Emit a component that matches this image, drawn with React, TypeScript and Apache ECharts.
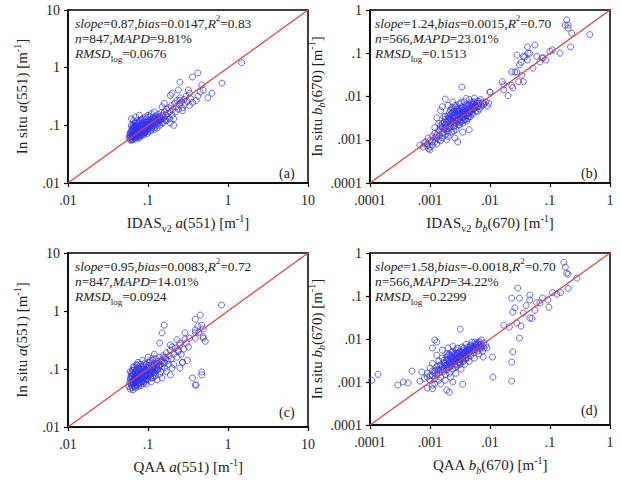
import React, { useEffect, useRef } from 'react';
import * as echarts from 'echarts';

const FONT = "'Liberation Serif', 'Times New Roman', serif";
const TXT = '#222';

// axis ranges (log10)
const rangeA = [0.01, 10];
const rangeB = [0.0001, 1];

// statistics: slope, bias, R2, n, MAPD, RMSDlog
const statsA = ['0.87', '0.0147', '0.83', '847', '9.81%', '0.0676'];
const statsB = ['1.24', '0.0015', '0.70', '566', '23.01%', '0.1513'];
const statsC = ['0.95', '0.0083', '0.72', '847', '14.01%', '0.0924'];
const statsD = ['1.58', '-0.0018', '0.70', '566', '34.22%', '0.2299'];

const panelLabels = ['(a)', '(b)', '(c)', '(d)'];

// axis names (rich text)
const xNames = [
  '{n|IDAS}{sub|v2}{n| }{i|a}{n|(551) [m}{sup|-1}{n|]}',
  '{n|IDAS}{sub|v2}{n| }{i|b}{isub|b}{n|(670) [m}{sup|-1}{n|]}',
  '{n|QAA }{i|a}{n|(551) [m}{sup|-1}{n|]}',
  '{n|QAA }{i|b}{isub|b}{n|(670) [m}{sup|-1}{n|]}',
];
const yNames = [
  '{n|In situ }{i|a}{n|(551) [m}{sup|-1}{n|]}',
  '{n|In situ }{i|b}{isub|b}{n|(670) [m}{sup|-1}{n|]}',
  '{n|In situ }{i|a}{n|(551) [m}{sup|-1}{n|]}',
  '{n|In situ }{i|b}{isub|b}{n|(670) [m}{sup|-1}{n|]}',
];

// panel (a): IDAS_v2 a(551) vs in situ a(551)
const pointsA = [
  [0.058,0.06],[0.06,0.057],[0.06,0.065],[0.061,0.072],[0.062,0.06],[0.062,0.08],[0.063,0.068],[0.063,0.09],[0.064,0.058],[0.064,0.075],
  [0.065,0.063],[0.065,0.1],[0.066,0.07],[0.066,0.085],[0.067,0.06],[0.067,0.078],[0.068,0.066],[0.068,0.11],[0.069,0.073],[0.069,0.092],
  [0.07,0.062],[0.07,0.082],[0.071,0.07],[0.071,0.1],[0.072,0.065],[0.072,0.088],[0.073,0.076],[0.073,0.12],[0.074,0.068],[0.074,0.095],
  [0.075,0.08],[0.075,0.062],[0.076,0.072],[0.076,0.105],[0.077,0.086],[0.078,0.068],[0.078,0.078],[0.079,0.115],[0.08,0.09],[0.08,0.072],
  [0.081,0.1],[0.082,0.082],[0.082,0.066],[0.083,0.125],[0.084,0.094],[0.085,0.076],[0.085,0.086],[0.086,0.108],[0.087,0.07],[0.088,0.098],
  [0.089,0.08],[0.09,0.118],[0.09,0.088],[0.091,0.074],[0.092,0.105],[0.093,0.094],[0.094,0.082],[0.095,0.13],[0.096,0.1],[0.097,0.086],
  [0.098,0.112],[0.1,0.095],[0.1,0.078],[0.102,0.12],[0.103,0.104],[0.104,0.09],[0.105,0.14],[0.107,0.11],[0.108,0.096],[0.11,0.125],
  [0.111,0.085],[0.112,0.106],[0.114,0.135],[0.115,0.098],[0.117,0.115],[0.118,0.09],[0.12,0.128],[0.122,0.105],[0.124,0.145],[0.125,0.115],
  [0.127,0.1],[0.13,0.135],[0.132,0.118],[0.134,0.155],[0.136,0.108],[0.138,0.125],[0.14,0.142],[0.143,0.12],[0.145,0.165],[0.147,0.13],
  [0.15,0.112],[0.153,0.148],[0.156,0.135],[0.16,0.17],[0.163,0.125],[0.166,0.15],[0.17,0.19],[0.174,0.14],[0.178,0.16],[0.182,0.2],
  [0.186,0.13],[0.19,0.175],[0.195,0.22],[0.2,0.15],[0.205,0.19],[0.21,0.13],[0.215,0.24],[0.22,0.17],[0.225,0.21],[0.23,0.27],
  [0.24,0.19],[0.245,0.23],[0.25,0.3],[0.26,0.25],[0.27,0.2],[0.28,0.28],[0.29,0.23],[0.3,0.32],[0.31,0.26],[0.33,0.22],
  [0.34,0.29],[0.36,0.25],[0.19,0.11],[0.17,0.12],[0.21,0.1],[0.16,0.24],[0.15,0.21],[0.24,0.41],[0.25,0.27],[0.27,0.18],
  [0.33,0.36],[0.32,0.41],[0.36,0.69],[0.42,0.81],[0.42,0.32],[0.45,0.38],[0.47,0.5],[0.49,0.41],[0.56,0.3],[0.63,0.36],
  [0.84,0.54],[1.48,1.22],[0.25,0.56],[0.19,0.33],[0.4,0.27],[0.2,0.36],[0.062,0.13],[0.07,0.14],[0.078,0.15],[0.066,0.12],
  [0.06,0.075],[0.059,0.068],[0.061,0.055],[0.064,0.056],[0.07,0.058],[0.076,0.063],[0.083,0.07],[0.09,0.075],[0.1,0.085],[0.11,0.092],
  [0.061,0.063],[0.063,0.071],[0.065,0.067],[0.067,0.073],[0.068,0.083],[0.069,0.064],[0.071,0.076],[0.072,0.093],[0.073,0.07],[0.074,0.081],
  [0.076,0.087],[0.077,0.067],[0.079,0.094],[0.08,0.083],[0.081,0.074],[0.083,0.091],[0.084,0.11],[0.086,0.079],[0.087,0.096],[0.089,0.086],
  [0.09,0.1],[0.092,0.079],[0.094,0.112],[0.095,0.09],[0.097,0.097],[0.099,0.105],[0.101,0.088],[0.103,0.115],[0.106,0.1],[0.108,0.122],
  [0.11,0.105],[0.113,0.115],[0.116,0.125],[0.119,0.108],[0.122,0.135],[0.126,0.122],[0.129,0.11],[0.133,0.128],[0.137,0.14],[0.142,0.13],
  [0.064,0.085],[0.068,0.095],[0.07,0.108],[0.075,0.11],[0.062,0.1],[0.066,0.092],[0.08,0.12],[0.085,0.13],[0.093,0.14],[0.1,0.15],
  [0.11,0.16],[0.12,0.17],[0.078,0.06],[0.088,0.068],[0.098,0.072],[0.108,0.08],[0.12,0.085],[0.13,0.09],[0.14,0.1],[0.155,0.11],
];

// panel (b): IDAS_v2 bb(670) vs in situ bb(670)
const pointsB = [
  [0.00068,0.00075],[0.00077,0.00068],[0.0008,0.00085],[0.00085,0.0009],[0.0009,0.00072],[0.00093,0.0011],[0.00095,0.00062],[0.001,0.00068],[0.001,0.00058],[0.001,0.00095],
  [0.0011,0.0012],[0.0011,0.00075],[0.0012,0.0009],[0.0012,0.0014],[0.0013,0.0011],[0.0013,0.0008],[0.0014,0.0017],[0.0014,0.0012],[0.0015,0.00095],[0.0015,0.0021],
  [0.0016,0.0014],[0.0016,0.0011],[0.0017,0.0025],[0.0017,0.0018],[0.0018,0.0013],[0.0018,0.0087],[0.0018,0.003],[0.0019,0.0021],[0.0019,0.0016],[0.002,0.0035],
  [0.002,0.0026],[0.002,0.0012],[0.0021,0.0019],[0.0021,0.0042],[0.0022,0.003],[0.0022,0.0023],[0.0023,0.0015],[0.0023,0.0055],[0.0024,0.0036],[0.0024,0.0027],
  [0.0025,0.002],[0.0025,0.0045],[0.0026,0.0032],[0.0026,0.0062],[0.0027,0.0024],[0.0027,0.0017],[0.0028,0.0039],[0.0028,0.0052],[0.0029,0.00089],[0.0029,0.0029],
  [0.003,0.0034],[0.003,0.0046],[0.003,0.0022],[0.0031,0.0068],[0.0032,0.004],[0.0032,0.0028],[0.0033,0.0055],[0.0034,0.0166],[0.0034,0.0033],[0.0035,0.0024],
  [0.0035,0.0048],[0.0036,0.0038],[0.0037,0.0075],[0.0038,0.0043],[0.0038,0.003],[0.004,0.0058],[0.004,0.0036],[0.0041,0.0027],[0.0042,0.0049],[0.0043,0.0065],
  [0.0044,0.0041],[0.0045,0.0085],[0.0046,0.0053],[0.0047,0.0034],[0.0048,0.0045],[0.005,0.006],[0.005,0.0072],[0.0052,0.0039],[0.0053,0.0051],[0.0055,0.0092],
  [0.0056,0.0064],[0.0058,0.0046],[0.006,0.0056],[0.0062,0.0078],[0.0064,0.0062],[0.0066,0.0051],[0.0068,0.0069],[0.007,0.0085],[0.0072,0.006],[0.0075,0.0072],
  [0.0078,0.0064],[0.008,0.0068],[0.0085,0.0075],[0.009,0.006],[0.0095,0.007],[0.01,0.0126],[0.0045,0.0017],[0.0035,0.0015],[0.0026,0.0011],[0.0019,0.001],
  [0.0015,0.0047],[0.0013,0.0032],[0.0016,0.0058],[0.0024,0.0075],[0.002,0.0062],[0.0014,0.0024],[0.0012,0.0019],[0.0017,0.0034],[0.0022,0.0048],[0.0027,0.0058],
  [0.0033,0.0072],[0.004,0.009],[0.0046,0.0062],[0.0054,0.0075],[0.0036,0.0028],[0.0031,0.0025],[0.0025,0.0016],[0.002,0.0015],[0.0043,0.0031],[0.0062,0.0045],
  [0.016,0.022],[0.017,0.0185],[0.017,0.0142],[0.023,0.018],[0.024,0.016],[0.023,0.037],[0.026,0.037],[0.028,0.037],[0.034,0.031],[0.036,0.022],
  [0.03,0.022],[0.028,0.091],[0.031,0.054],[0.038,0.082],[0.042,0.14],[0.042,0.07],[0.043,0.1],[0.046,0.1],[0.052,0.045],[0.056,0.155],
  [0.068,0.063],[0.074,0.078],[0.077,0.078],[0.1,0.11],[0.11,0.12],[0.147,0.1],[0.22,0.14],[0.23,0.29],[0.2,0.38],[0.18,0.45],
  [0.2,0.45],[0.19,0.59],[0.46,0.27],[0.033,0.062],[0.036,0.085],[0.06,0.085],[0.085,0.07],[0.01,0.0126],[0.02,0.0105],
  [0.0013,0.0013],[0.0014,0.0015],[0.0015,0.0018],[0.0016,0.002],[0.0017,0.0015],[0.0018,0.0022],[0.0018,0.0019],[0.0019,0.0025],[0.002,0.0018],[0.002,0.003],
  [0.0021,0.0028],[0.0022,0.0021],[0.0022,0.0038],[0.0023,0.0027],[0.0024,0.0032],[0.0024,0.0044],[0.0025,0.0025],[0.0026,0.0037],[0.0026,0.0029],[0.0027,0.0033],
  [0.0028,0.0045],[0.0028,0.0027],[0.0029,0.0036],[0.003,0.0041],[0.003,0.003],[0.0031,0.0038],[0.0032,0.0048],[0.0033,0.0035],[0.0034,0.0043],[0.0034,0.0058],
  [0.0035,0.0039],[0.0036,0.0047],[0.0037,0.0034],[0.0038,0.0053],[0.0039,0.0045],[0.004,0.0041],[0.0041,0.0064],[0.0042,0.0038],[0.0043,0.0052],[0.0044,0.0046],
  [0.0045,0.0058],[0.0046,0.0044],[0.0048,0.0068],[0.005,0.0049],[0.0051,0.0057],[0.0053,0.0066],[0.0055,0.0053],[0.0057,0.006],[0.006,0.007],[0.0063,0.0058],
  [0.0066,0.0075],[0.0016,0.0024],[0.0018,0.0035],[0.0021,0.0032],[0.0023,0.0041],[0.0025,0.0052],[0.0029,0.005],[0.0031,0.0022],[0.0026,0.0021],[0.0033,0.0026],
  [0.0039,0.0029],[0.0044,0.0035],[0.0049,0.0041],[0.0012,0.0011],[0.0011,0.0009],[0.0014,0.001],[0.0009,0.0008],
];

// panel (c): QAA a(551) vs in situ a(551)
const pointsC = [
  [0.058,0.05],[0.059,0.058],[0.06,0.045],[0.06,0.066],[0.061,0.075],[0.062,0.053],[0.062,0.085],[0.063,0.062],[0.063,0.048],[0.064,0.07],
  [0.064,0.095],[0.065,0.056],[0.066,0.08],[0.066,0.065],[0.067,0.05],[0.067,0.105],[0.068,0.074],[0.069,0.06],[0.069,0.088],[0.07,0.068],
  [0.07,0.054],[0.071,0.097],[0.072,0.078],[0.072,0.063],[0.073,0.115],[0.074,0.085],[0.074,0.07],[0.075,0.057],[0.076,0.092],[0.077,0.075],
  [0.078,0.064],[0.078,0.1],[0.079,0.082],[0.08,0.07],[0.081,0.12],[0.082,0.09],[0.083,0.076],[0.084,0.06],[0.085,0.098],[0.086,0.083],
  [0.087,0.068],[0.088,0.108],[0.089,0.09],[0.09,0.074],[0.091,0.125],[0.092,0.098],[0.093,0.082],[0.094,0.065],[0.096,0.105],[0.097,0.088],
  [0.098,0.075],[0.1,0.115],[0.101,0.095],[0.102,0.08],[0.104,0.13],[0.105,0.1],[0.107,0.085],[0.108,0.07],[0.11,0.118],[0.112,0.095],
  [0.114,0.14],[0.116,0.108],[0.118,0.085],[0.12,0.125],[0.122,0.1],[0.124,0.078],[0.126,0.15],[0.128,0.115],[0.13,0.095],[0.133,0.135],
  [0.136,0.108],[0.14,0.16],[0.143,0.12],[0.146,0.09],[0.15,0.14],[0.154,0.17],[0.158,0.125],[0.162,0.105],[0.166,0.155],[0.17,0.19],
  [0.175,0.14],[0.18,0.12],[0.185,0.17],[0.19,0.21],[0.195,0.15],[0.2,0.104],[0.21,0.18],[0.22,0.23],[0.23,0.16],[0.24,0.2],
  [0.25,0.26],[0.26,0.18],[0.27,0.13],[0.28,0.22],[0.3,0.28],[0.31,0.14],[0.32,0.24],[0.14,0.081],[0.15,0.07],[0.115,0.07],
  [0.19,0.079],[0.25,0.104],[0.27,0.13],[0.36,0.07],[0.39,0.053],[0.4,0.053],[0.47,0.079],[0.47,0.089],[0.16,0.57],[0.15,0.42],
  [0.29,0.42],[0.39,0.47],[0.42,0.55],[0.45,0.85],[0.39,0.72],[0.83,1.27],[0.49,0.36],[0.52,0.3],[0.33,0.34],[0.25,0.28],
  [0.19,0.26],[0.14,0.28],[0.16,0.16],[0.23,0.32],[0.2,0.24],[0.24,0.21],[0.47,0.57],[0.49,0.49],[0.43,0.43],[0.39,0.42],
  [0.49,0.34],[0.39,0.34],[0.29,0.33],[0.12,0.18],[0.1,0.16],[0.085,0.14],[0.075,0.13],[0.095,0.055],[0.11,0.06],[0.13,0.065],
  [0.17,0.09],[0.21,0.12],[0.065,0.044],[0.07,0.047],[0.076,0.05],[0.082,0.052],[0.088,0.056],[0.066,0.11],[0.06,0.09],[0.072,0.12],
  [0.061,0.058],[0.063,0.055],[0.065,0.06],[0.067,0.066],[0.068,0.058],[0.069,0.072],[0.071,0.061],[0.072,0.068],[0.073,0.052],[0.075,0.075],
  [0.076,0.064],[0.077,0.082],[0.079,0.058],[0.08,0.078],[0.081,0.066],[0.083,0.086],[0.084,0.07],[0.086,0.062],[0.087,0.09],[0.089,0.072],
  [0.09,0.082],[0.092,0.066],[0.094,0.094],[0.095,0.076],[0.097,0.068],[0.099,0.085],[0.101,0.105],[0.103,0.09],[0.106,0.078],[0.108,0.095],
  [0.11,0.085],[0.113,0.1],[0.116,0.09],[0.119,0.115],[0.122,0.088],[0.126,0.105],[0.129,0.125],[0.133,0.1],[0.137,0.115],[0.142,0.135],
  [0.062,0.075],[0.064,0.082],[0.066,0.095],[0.07,0.088],[0.073,0.1],[0.076,0.108],[0.079,0.07],[0.082,0.1],[0.088,0.115],[0.095,0.12],
  [0.105,0.14],[0.115,0.15],[0.061,0.068],[0.068,0.05],[0.078,0.055],[0.09,0.06],[0.1,0.065],[0.12,0.075],[0.15,0.11],[0.16,0.13],
];

// panel (d): QAA bb(670) vs in situ bb(670)
const pointsD = [
  [0.000107,0.0011],[0.000136,0.0015],[0.00029,0.00085],[0.00036,0.001],[0.00043,0.00095],[0.0005,0.0018],[0.00068,0.00105],[0.00073,0.0017],[0.0009,0.00072],[0.0011,0.0007],
  [0.0011,0.00085],[0.0019,0.00065],[0.0021,0.00058],[0.0035,0.00089],[0.0024,0.001],[0.0013,0.0085],[0.0012,0.0095],[0.0011,0.0062],[0.002,0.0062],[0.0032,0.017],
  [0.0056,0.0085],[0.0089,0.0062],[0.011,0.0038],[0.0112,0.0013],[0.0077,0.0038],
  [0.0008,0.0012],[0.0009,0.0016],[0.001,0.0011],[0.001,0.0021],[0.0011,0.0014],[0.0011,0.0027],[0.0012,0.0018],[0.0012,0.0012],[0.0013,0.0023],[0.0013,0.0015],
  [0.0014,0.0031],[0.0014,0.0019],[0.0015,0.0013],[0.0015,0.0025],[0.0016,0.0017],[0.0016,0.0036],[0.0017,0.0021],[0.0017,0.0028],[0.0018,0.0015],[0.0018,0.0024],
  [0.0019,0.0032],[0.0019,0.0019],[0.002,0.0026],[0.002,0.0042],[0.0021,0.0022],[0.0021,0.0016],[0.0022,0.003],[0.0022,0.0036],[0.0023,0.0024],[0.0023,0.0049],
  [0.0024,0.0028],[0.0024,0.002],[0.0025,0.0034],[0.0025,0.0041],[0.0026,0.0026],[0.0026,0.0031],[0.0027,0.0038],[0.0027,0.0056],[0.0028,0.0023],[0.0028,0.0033],
  [0.0029,0.0045],[0.003,0.0029],[0.003,0.0037],[0.0031,0.0051],[0.0032,0.0033],[0.0032,0.0026],[0.0033,0.0042],[0.0034,0.0065],[0.0035,0.0036],[0.0035,0.0047],
  [0.0036,0.003],[0.0037,0.0055],[0.0038,0.004],[0.0039,0.0034],[0.004,0.0049],[0.004,0.0075],[0.0042,0.0043],[0.0043,0.0037],[0.0044,0.0058],[0.0045,0.0047],
  [0.0046,0.0066],[0.0048,0.0041],[0.005,0.0053],[0.005,0.0085],[0.0052,0.0061],[0.0054,0.0048],[0.0056,0.0057],[0.0058,0.0072],[0.006,0.0064],[0.0062,0.0052],
  [0.0064,0.0082],[0.0066,0.0068],[0.0068,0.0058],[0.007,0.0075],[0.0072,0.0095],[0.0075,0.0068],[0.0078,0.008],[0.008,0.0062],[0.0085,0.0072],[0.0015,0.0009],
  [0.0018,0.0011],[0.0022,0.0013],[0.0027,0.0016],[0.0033,0.002],[0.0016,0.0055],[0.0013,0.0042],[0.0024,0.0068],[0.0045,0.003],[0.0055,0.0036],[0.0012,0.0009],
  [0.0009,0.0013],[0.0014,0.0024],[0.0019,0.0045],[0.0029,0.0062],[0.0038,0.0026],[0.0065,0.0045],[0.0075,0.0052],
  [0.17,0.61],[0.18,0.47],[0.19,0.34],[0.2,0.32],[0.28,0.26],[0.2,0.15],[0.15,0.12],[0.11,0.12],[0.092,0.081],[0.068,0.069],
  [0.096,0.055],[0.056,0.047],[0.046,0.081],[0.046,0.105],[0.029,0.153],[0.023,0.089],[0.031,0.089],[0.026,0.053],[0.024,0.042],[0.046,0.031],
  [0.036,0.04],[0.028,0.0236],[0.031,0.0105],[0.017,0.021],[0.021,0.019],[0.024,0.005],[0.023,0.0029],[0.023,0.00105],[0.06,0.07],[0.075,0.09],
  [0.04,0.06],[0.05,0.03],[0.033,0.02],[0.13,0.11],
  [0.0012,0.0016],[0.0013,0.0019],[0.0014,0.0016],[0.0015,0.002],[0.0016,0.0023],[0.0017,0.0019],[0.0018,0.0027],[0.0019,0.0023],[0.002,0.0021],[0.002,0.0033],
  [0.0021,0.0027],[0.0022,0.0025],[0.0022,0.004],[0.0023,0.0029],[0.0024,0.0034],[0.0025,0.0029],[0.0025,0.0046],[0.0026,0.0036],[0.0027,0.0031],[0.0028,0.0041],
  [0.0029,0.0034],[0.003,0.0048],[0.0031,0.0039],[0.0032,0.0043],[0.0033,0.0036],[0.0034,0.005],[0.0035,0.0041],[0.0036,0.0045],[0.0037,0.0062],[0.0038,0.0048],
  [0.0039,0.0052],[0.004,0.0043],[0.0042,0.0055],[0.0043,0.0064],[0.0044,0.0051],[0.0046,0.0057],[0.0047,0.0072],[0.0049,0.006],[0.0051,0.0068],[0.0053,0.0056],
  [0.0055,0.0065],[0.0058,0.0078],[0.006,0.0069],[0.0063,0.0074],[0.0067,0.0087],[0.007,0.0064],[0.0017,0.0032],[0.0019,0.0038],[0.0021,0.0044],[0.0024,0.0052],
  [0.0027,0.0047],[0.0029,0.0025],[0.0026,0.0022],[0.0031,0.0028],[0.0035,0.0031],[0.004,0.0036],[0.0014,0.0011],[0.001,0.0014],[0.0011,0.0018],
];

const grids = [
  { left: 68, top: 10, width: 240, height: 173 },
  { left: 370, top: 10, width: 240, height: 173 },
  { left: 68, top: 253, width: 240, height: 174 },
  { left: 370, top: 253, width: 240, height: 172 },
];
const labelOffsets = [10, 10, 15, 15];
const yNameGaps = [36, 42, 36, 42];

const richStyles = (size: number) => {
  const small = Math.round(size * 0.68);
  return {
    n: { fontFamily: FONT, fontSize: size, color: TXT, lineHeight: 20 },
    i: { fontFamily: FONT, fontSize: size, fontStyle: 'italic', color: TXT, lineHeight: 20 },
    sup: { fontFamily: FONT, fontSize: small, color: TXT, verticalAlign: 'top', lineHeight: 14 },
    sub: { fontFamily: FONT, fontSize: small, color: TXT, verticalAlign: 'bottom', lineHeight: 9 },
    isub: { fontFamily: FONT, fontSize: small, fontStyle: 'italic', color: TXT, verticalAlign: 'bottom', lineHeight: 9 },
  };
};

const fmt = (v: number) => {
  const s = String(Number(v.toPrecision(6)));
  return s.startsWith('0.') ? s.slice(1) : s;
};

export default function App() {
  const ref = useRef<HTMLDivElement>(null);
  useEffect(() => {
    if (!ref.current) return;
    const chart = echarts.init(ref.current, undefined, { renderer: 'svg' });
    const ranges = [rangeA, rangeB, rangeA, rangeB];
    const pts = [pointsA, pointsB, pointsC, pointsD];
    const stats = [statsA, statsB, statsC, statsD];

    const axisCommon = {
      type: 'log',
      logBase: 10,
      splitLine: { show: false },
      axisLine: { show: true, lineStyle: { color: '#000', width: 1.5 } },
      axisTick: { show: true, inside: false, length: 4, lineStyle: { color: '#000', width: 1.2 } },
      axisLabel: { fontFamily: FONT, fontSize: 14, color: TXT, formatter: fmt },
      nameLocation: 'middle',
      nameTextStyle: { fontFamily: FONT, fontSize: 15, color: TXT, rich: richStyles(15) },
    };

    const titles: any[] = [];
    grids.forEach((g, k) => {
      const s = stats[k];
      const lines = [
        `{i|slope}{n|=${s[0]},}{i|bias}{n|=${s[1]},}{i|R}{sup|2}{n|=${s[2]}}`,
        `{i|n}{n|=${s[3]},}{i|MAPD}{n|=${s[4]}}`,
        `{i|RMSD}{sub|log}{n|=${s[5]}}`,
      ];
      const ys = [13, 28, 43];
      lines.forEach((t, j) => {
        titles.push({
          text: t,
          left: g.left + (k % 2 === 1 ? 5 : 7),
          top: g.top + ys[j] - 10,
          padding: 0,
          itemGap: 0,
          z: 10,
          textStyle: { fontFamily: FONT, fontSize: 13.4, fontWeight: 'normal', color: TXT, rich: richStyles(13.4) },
        });
      });
      titles.push({
        text: panelLabels[k],
        left: g.left + g.width - 29,
        top: g.top + g.height - labelOffsets[k] - 8,
        padding: 0,
        z: 10,
        textStyle: { fontFamily: FONT, fontSize: 14, fontWeight: 'normal', color: TXT, lineHeight: 16 },
      });
    });

    const option: any = {
      animation: false,
      backgroundColor: '#fff',
      title: titles,
      grid: grids.map((g) => ({ ...g, show: true, borderColor: '#000', borderWidth: 1.5, backgroundColor: 'transparent' })),
      xAxis: grids.map((_, k) => ({
        ...axisCommon,
        gridIndex: k,
        min: ranges[k][0],
        max: ranges[k][1],
        axisLabel: { ...axisCommon.axisLabel, margin: 10 },
        name: xNames[k],
        nameGap: 30,
      })),
      yAxis: grids.map((_, k) => ({
        ...axisCommon,
        gridIndex: k,
        min: ranges[k][0],
        max: ranges[k][1],
        axisLabel: { ...axisCommon.axisLabel, margin: 8 },
        name: yNames[k],
        nameGap: yNameGaps[k],
      })),
      series: [
        ...pts.map((p, k) => ({
          type: 'scatter',
          xAxisIndex: k,
          yAxisIndex: k,
          data: p,
          symbol: 'circle',
          symbolSize: 6,
          itemStyle: { color: 'rgba(0,0,0,0)', borderColor: '#3030f5', borderWidth: 0.9 },
          emphasis: { disabled: true },
          z: 2,
        })),
        ...ranges.map((r, k) => ({
          type: 'line',
          xAxisIndex: k,
          yAxisIndex: k,
          data: [[r[0], r[0]], [r[1], r[1]]],
          symbol: 'none',
          lineStyle: { color: '#e5403a', width: 1.2 },
          emphasis: { disabled: true },
          z: 5,
        })),
      ],
    };
    chart.setOption(option);
    return () => chart.dispose();
  }, []);
  return <div ref={ref} style={{ position: 'fixed', left: 0, top: 0, width: 621, height: 480 }} />;
}
